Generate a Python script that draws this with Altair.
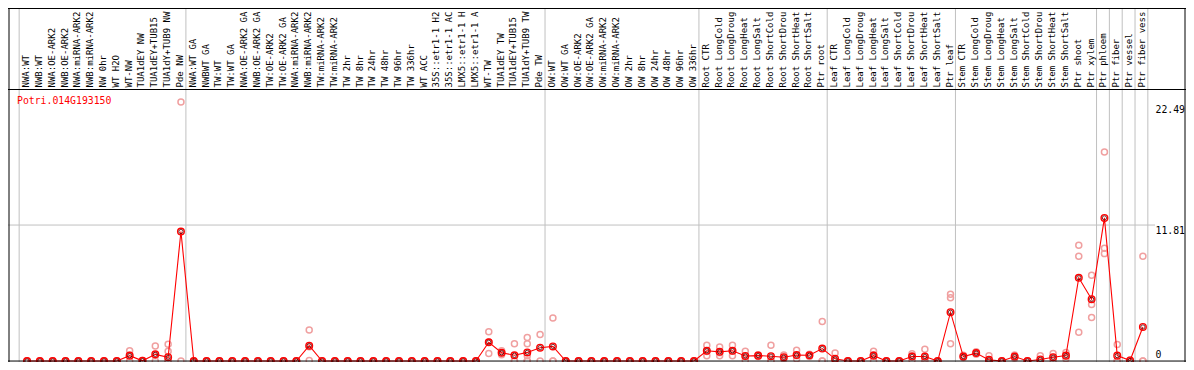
import altair as alt
import pandas as pd

gene = "Potri.014G193150"

labels = [
    "NWA:WT", "NWB:WT", "NWA:OE-ARK2", "NWB:OE-ARK2", "NWA:miRNA-ARK2", "NWB:miRNA-ARK2",
    "NW 0hr", "WT H2O", "WT-NW", "TUA1dEY NW", "TUA1dEY+TUB15", "TUA1dY+TUB9 NW", "Pde NW",
    "NWA:WT GA", "NWBWT GA", "TW:WT", "TW:WT GA", "NWA:OE-ARK2 GA", "NWB:OE-ARK2 GA",
    "TW:OE-ARK2", "TW:OE-ARK2 GA", "NWA:miRNA-ARK2", "NWB:miRNA-ARK2", "TW:miRNA-ARK2",
    "TW:miRNA-ARK2", "TW 2hr", "TW 8hr", "TW 24hr", "TW 48hr", "TW 96hr", "TW 336hr",
    "WT ACC", "35S::etr1-1 H2O", "35S::etr1-1 ACC", "LMX5::etr1-1 H2O", "LMX5::etr1-1 ACC",
    "WT-TW", "TUA1dEY TW", "TUA1dEY+TUB15", "TUA1dY+TUB9 TW", "Pde TW",
    "OW:WT", "OW:WT GA", "OW:OE-ARK2", "OW:OE-ARK2 GA", "OW:miRNA-ARK2", "OW:miRNA-ARK2",
    "OW 2hr", "OW 8hr", "OW 24hr", "OW 48hr", "OW 96hr", "OW 336hr",
    "Root CTR", "Root LongCold", "Root LongDrought", "Root LongHeat", "Root LongSalt",
    "Root ShortCold", "Root ShortDrought", "Root ShortHeat", "Root ShortSalt", "Ptr root",
    "Leaf CTR", "Leaf LongCold", "Leaf LongDrought", "Leaf LongHeat", "Leaf LongSalt",
    "Leaf ShortCold", "Leaf ShortDrought", "Leaf ShortHeat", "Leaf ShortSalt", "Ptr leaf",
    "Stem CTR", "Stem LongCold", "Stem LongDrought", "Stem LongHeat", "Stem LongSalt",
    "Stem ShortCold", "Stem ShortDrought", "Stem ShortHeat", "Stem ShortSalt",
    "Ptr shoot", "Ptr xylem", "Ptr phloem", "Ptr fiber", "Ptr vessel", "Ptr fiber vessel",
]

means = [
    0, 0, 0, 0, 0, 0, 0, 0, 0.47, 0.02, 0.58, 0.33, 11.245,
    0, 0, 0, 0, 0, 0, 0, 0, 0, 1.33, 0, 0, 0, 0, 0, 0, 0, 0,
    0, 0, 0, 0, 0, 1.63, 0.72, 0.5, 0.75, 1.16,
    1.27, 0, 0, 0, 0, 0, 0, 0, 0, 0, 0, 0,
    0.89, 0.8, 0.89, 0.44, 0.47, 0.42, 0.33, 0.52, 0.5, 1.08,
    0.19, 0, 0, 0.47, 0, 0, 0.39, 0.39, 0, 4.24,
    0.39, 0.69, 0.1, 0, 0.39, 0, 0.14, 0.33, 0.47,
    7.23, 5.37, 12.43, 0.47, 0.05, 2.96,
]

reps = [
    [0, 0, 0], [0, 0, 0], [0, 0, 0], [0, 0, 0], [0, 0, 0], [0, 0, 0], [0, 0, 0], [0, 0, 0],
    [0.9, 0.5, 0.0], [0.05, 0, 0], [1.3, 0.45, 0.0], [1.45, 0.85, 0, 0, 0, 0], [22.49, 0.0],
    [0, 0, 0], [0, 0, 0], [0, 0, 0], [0, 0, 0], [0, 0, 0], [0, 0, 0], [0, 0, 0], [0, 0, 0],
    [0, 0, 0], [2.7, 1.25, 0.05], [0, 0, 0], [0, 0, 0], [0, 0, 0], [0, 0, 0], [0, 0, 0],
    [0, 0, 0], [0, 0, 0], [0, 0, 0], [0, 0, 0], [0, 0, 0], [0, 0, 0], [0, 0, 0], [0, 0, 0],
    [2.55, 1.65, 0.66], [0.9, 0.72, 0.55], [1.5, 0.0, 0.0], [2.05, 1.5, 0.45, 0.0, 0.0],
    [2.3, 0.0], [3.74, 0.0, 0.0],
    [0, 0, 0], [0, 0, 0], [0, 0, 0], [0, 0, 0], [0, 0, 0], [0, 0, 0], [0, 0, 0], [0, 0, 0],
    [0, 0, 0], [0, 0, 0], [0, 0, 0],
    [1.38, 0.82, 0.47], [1.22, 0.72, 0.47], [1.38, 0.85, 0.45], [0.86, 0.4, 0.06],
    [0.55, 0.45, 0.4], [1.38, 0.0, 0.0], [0.52, 0.3, 0.18], [0.94, 0.45, 0.18],
    [0.6, 0.5, 0.4], [3.43, 0.0, 0.0],
    [0.69, 0.0, 0.0], [0, 0, 0], [0, 0, 0], [0.86, 0.55, 0.0], [0, 0, 0], [0, 0, 0],
    [0.64, 0.45, 0.08], [1.02, 0.15, 0.0], [0, 0, 0], [5.81, 5.5, 1.5],
    [0.5, 0.4, 0.3], [0.8, 0.7, 0.6], [0.45, 0.0, 0.0], [0, 0, 0], [0.52, 0.4, 0.25],
    [0, 0, 0], [0.47, 0.0, 0.0], [0.66, 0.3, 0.05], [0.75, 0.45, 0.2],
    [10.05, 9.11, 2.49], [7.45, 4.9, 3.79], [18.16, 9.8, 9.33], [1.44, 0.0, 0.0],
    [0.1, 0.0, 0.0], [9.11, 0.0, 0.0],
]

# group boundaries (after column k) drawn as grey separators
separators = [0, 13, 41, 53, 63, 73, 84, 85, 86, 87, 88]
y_ticks = [22.49, 11.81, 0]

W, H = 1178, 354
FONT = "DejaVu Sans Mono"
MAXCH = 14  # header is only this many characters tall, as in the reference

xs = alt.Scale(domain=[-0.4846, 91.36], zero=False, nice=False)
ys = alt.Scale(domain=[-0.0834, 30.657], zero=False, nice=False)

idx = list(range(1, len(labels) + 1))
df_mean = pd.DataFrame({"i": idx, "label": [l[:MAXCH] for l in labels], "v": means})
rows = []
for i, rr in zip(idx, reps):
    for r in rr:
        rows.append({"i": i, "v": r})
df_rep = pd.DataFrame(rows)
df_sep = pd.DataFrame({"s": [s + 0.385 for s in separators]})

X = alt.X("i:Q", scale=xs, axis=None)
Y = alt.Y("v:Q", scale=ys, axis=None)

sep = alt.Chart(df_sep).mark_rule(color="#c0c0c0", strokeWidth=1).encode(
    x=alt.X("s:Q", scale=xs, axis=None)
)

grid = alt.Chart(pd.DataFrame({"g": [11.81]})).mark_rule(color="#c0c0c0", strokeWidth=1).encode(
    y=alt.Y("g:Q", scale=ys, axis=None), x=alt.value(0), x2=alt.value(1147)
)

base_rule = alt.Chart(pd.DataFrame({"g": [0]})).mark_rule(color="black", strokeWidth=1).encode(
    y=alt.Y("g:Q", scale=ys, axis=None), x=alt.value(0), x2=alt.value(W)
)

frame_top = alt.Chart(pd.DataFrame({"g": [0]})).mark_rule(color="black", strokeWidth=1).encode(
    x=alt.value(0), x2=alt.value(W), y=alt.value(0.5)
)
frame_mid = alt.Chart(pd.DataFrame({"g": [0]})).mark_rule(color="black", strokeWidth=1).encode(
    x=alt.value(0), x2=alt.value(W), y=alt.value(81.5)
)
frame_left = alt.Chart(pd.DataFrame({"g": [0]})).mark_rule(color="black", strokeWidth=1).encode(
    x=alt.value(1), y=alt.value(0), y2=alt.value(H)
)
frame_right = alt.Chart(pd.DataFrame({"g": [0]})).mark_rule(color="black", strokeWidth=1).encode(
    x=alt.value(W - 1), y=alt.value(0), y2=alt.value(H)
)

head = alt.Chart(df_mean).mark_text(
    angle=270, align="left", baseline="middle", font=FONT, fontSize=9, color="black",
    dy=-1
).encode(x=X, y=alt.value(79.5), text="label:N")

gene_txt = alt.Chart(pd.DataFrame({"t": [gene]})).mark_text(
    align="left", baseline="middle", font=FONT, fontSize=9.8, color="#ff0000"
).encode(x=alt.value(9), y=alt.value(93), text="t:N")

tick_layers = []
for val, off in zip(y_ticks, [8, 5.5, -6.5]):
    tick_layers.append(
        alt.Chart(pd.DataFrame({"v": [val], "t": [f"{val:g}"]})).mark_text(
            align="left", baseline="middle", font=FONT, fontSize=9.8, color="black", dy=off
        ).encode(x=alt.value(1147.5), y=Y, text="t:N")
    )

rep_pts = alt.Chart(df_rep).mark_point(
    shape="circle", filled=False, size=36, strokeWidth=1.5, color="#f0a0a0", opacity=1, clip=True
).encode(x=X, y=Y)

line = alt.Chart(df_mean).mark_line(color="#ff0000", strokeWidth=1.1, clip=True).encode(
    x=X, y=Y, order="i:Q"
)

mean_outer = alt.Chart(df_mean).mark_point(
    shape="circle", filled=False, size=44, strokeWidth=1.4, color="#ff0000", opacity=1, clip=True
).encode(x=X, y=Y)
mean_inner = alt.Chart(df_mean).mark_point(
    shape="circle", filled=False, size=18, strokeWidth=0.9, color="#550000", opacity=0.9, clip=True
).encode(x=X, y=Y)

chart = alt.layer(
    sep, grid, rep_pts, line, mean_outer, mean_inner, base_rule,
    frame_top, frame_mid, frame_left, frame_right, head, gene_txt, *tick_layers
).properties(
    width=W, height=H, padding=0, autosize=alt.AutoSizeParams(type="none"),
    background="white"
).configure_view(stroke=None)

chart.save("out.html", embed_options={"renderer": "svg", "actions": False})
